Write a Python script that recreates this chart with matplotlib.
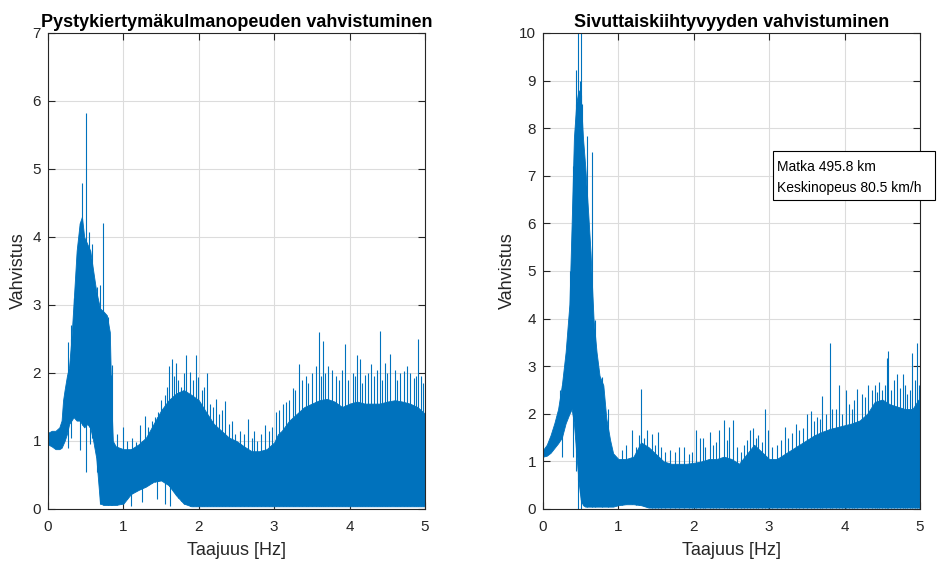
import matplotlib.pyplot as plt
from matplotlib.patches import Rectangle
import numpy as np

plt.rcParams['font.family'] = ['Liberation Sans', 'DejaVu Sans']

# --- vasen kuva: pystykiertymakulmanopeus, tiheän kaistan ylä- ja alareuna ---
left_f = [0.0, 0.05, 0.1, 0.15, 0.18, 0.2, 0.22, 0.25, 0.28, 0.31, 0.34, 0.38, 0.42, 0.45,
          0.48, 0.52, 0.56, 0.6, 0.64, 0.69, 0.74, 0.78, 0.82, 0.84, 0.86, 0.9, 1.0, 1.1,
          1.2, 1.3, 1.4, 1.5, 1.6, 1.7, 1.8, 1.9, 2.0, 2.1, 2.2, 2.3, 2.4, 2.5, 2.6, 2.7,
          2.8, 2.9, 3.0, 3.05, 3.1, 3.2, 3.3, 3.4, 3.5, 3.6, 3.7, 3.8, 3.9, 4.0, 4.1, 4.2,
          4.3, 4.4, 4.5, 4.6, 4.7, 4.8, 4.9, 5.0]
left_up = [1.12, 1.15, 1.15, 1.2, 1.3, 1.6, 1.75, 1.95, 2.1, 2.5, 3.05, 3.8, 4.2, 4.3,
           4.0, 3.9, 3.8, 3.5, 3.2, 2.95, 2.9, 2.85, 2.6, 1.6, 1.0, 0.92, 0.88, 0.88,
           0.95, 1.05, 1.25, 1.45, 1.6, 1.7, 1.75, 1.68, 1.6, 1.42, 1.25, 1.15, 1.05, 1.0,
           0.92, 0.85, 0.85, 0.88, 0.98, 1.1, 1.15, 1.3, 1.4, 1.5, 1.55, 1.6, 1.62, 1.58,
           1.5, 1.55, 1.58, 1.55, 1.55, 1.55, 1.58, 1.6, 1.58, 1.55, 1.5, 1.4]
left_lo = [0.95, 0.92, 0.88, 0.88, 0.9, 0.95, 1.0, 1.1, 1.25, 1.3, 1.35, 1.3, 1.3, 1.25,
           1.2, 1.25, 1.2, 1.0, 0.75, 0.08, 0.06, 0.06, 0.06, 0.06, 0.06, 0.06, 0.08, 0.22,
           0.28, 0.33, 0.4, 0.42, 0.35, 0.2, 0.08, 0.04, 0.04, 0.04, 0.04, 0.04, 0.04, 0.04,
           0.04, 0.04, 0.04, 0.04, 0.04, 0.04, 0.04, 0.04, 0.04, 0.04, 0.04, 0.04, 0.04, 0.04,
           0.04, 0.04, 0.04, 0.04, 0.04, 0.04, 0.04, 0.04, 0.04, 0.04, 0.04, 0.04]
left_spike_f = [0.27, 0.31, 0.34, 0.455, 0.51, 0.55, 0.59, 0.655, 0.69, 0.73, 0.80, 0.83, 0.85,
                0.92, 0.99, 1.22, 1.29, 1.38, 1.46, 1.55, 1.61, 1.64, 1.70, 1.77, 1.83, 1.88,
                1.96, 1.99, 2.11, 2.23, 2.35, 2.48, 2.65, 2.77, 2.88, 3.03, 3.16, 3.25, 3.33,
                3.42, 3.59, 3.65, 3.72, 3.82, 3.94, 4.10, 4.14, 4.20, 4.28, 4.40, 4.47, 4.54,
                4.72, 4.85, 4.91, 4.95,
                1.05, 1.12, 1.17, 1.33, 1.42, 1.50, 1.58, 1.67, 1.73, 1.80, 1.92, 2.04,
                2.07, 2.15, 2.19, 2.27, 2.31, 2.40, 2.44, 2.55, 2.60, 2.70, 2.73, 2.82,
                2.93, 2.97, 3.07, 3.12, 3.20, 3.28, 3.37, 3.45, 3.50, 3.55, 3.62, 3.68,
                3.77, 3.86, 3.90, 3.98, 4.04, 4.07, 4.17, 4.24, 4.33, 4.36, 4.43, 4.50,
                4.60, 4.63, 4.67, 4.76, 4.80, 4.88, 4.98]
left_spike_v = [2.45, 2.7, 3.1, 4.8, 5.83, 4.08, 3.9, 3.27, 3.3, 4.2, 2.83, 1.97, 2.12,
                1.1, 1.21, 1.23, 1.37, 1.3, 1.43, 1.67, 2.11, 2.21, 2.14, 1.8, 2.27, 2.01,
                2.27, 1.94, 2.0, 1.62, 1.59, 1.11, 1.33, 1.0, 1.24, 1.42, 1.58, 1.78, 2.13,
                1.95, 2.6, 2.47, 2.1, 1.95, 2.43, 2.27, 2.2, 1.97, 2.13, 2.62, 2.15, 2.28,
                2.03, 1.93, 2.5, 1.96,
                1.0, 1.05, 0.98, 1.2, 1.35, 1.6, 1.8, 1.95, 1.9, 2.0, 1.9, 1.75,
                1.8, 1.55, 1.5, 1.4, 1.45, 1.25, 1.3, 1.15, 1.1, 1.05, 1.15, 1.1,
                1.15, 1.2, 1.45, 1.55, 1.6, 1.75, 1.9, 1.85, 2.0, 2.1, 1.95, 2.0,
                2.05, 1.9, 2.05, 1.9, 2.0, 1.95, 1.85, 2.0, 1.95, 2.05, 1.9, 2.0,
                2.05, 1.9, 2.0, 2.1, 2.0, 1.95, 1.85]
left_dip_f = [0.0, 0.26, 0.31, 0.42, 0.51, 0.56, 1.1, 1.25, 1.45, 1.55, 1.62]
left_dip_v = [0.2, 0.9, 1.05, 0.87, 0.55, 0.95, 0.05, 0.1, 0.15, 0.08, 0.05]

# --- oikea kuva: sivuttaiskiihtyvyys ---
right_f = [0.0, 0.05, 0.1, 0.15, 0.2, 0.25, 0.3, 0.35, 0.38, 0.41, 0.44, 0.47, 0.5, 0.53,
           0.56, 0.6, 0.63, 0.67, 0.71, 0.75, 0.8, 0.84, 0.89, 0.93, 1.0, 1.1, 1.2, 1.3,
           1.4, 1.5, 1.6, 1.7, 1.8, 1.9, 2.0, 2.1, 2.2, 2.3, 2.4, 2.5, 2.6, 2.7, 2.8, 2.9,
           3.0, 3.1, 3.2, 3.3, 3.4, 3.5, 3.6, 3.7, 3.8, 3.9, 4.0, 4.1, 4.2, 4.3, 4.4, 4.5,
           4.6, 4.7, 4.8, 4.9, 4.98, 5.0]
right_up = [1.24, 1.35, 1.55, 1.8, 2.1, 2.6, 3.3, 4.3, 6.0, 7.8, 8.5, 8.8, 8.7, 7.8,
            7.2, 6.2, 5.4, 4.0, 3.3, 2.8, 2.6, 1.9, 1.45, 1.17, 1.05, 1.05, 1.1, 1.4,
            1.3, 1.15, 1.0, 0.95, 0.95, 0.95, 0.97, 1.0, 1.05, 1.05, 1.1, 1.05, 0.95, 1.15,
            1.35, 1.2, 1.05, 1.05, 1.15, 1.25, 1.35, 1.45, 1.55, 1.62, 1.68, 1.72, 1.76, 1.8,
            1.86, 2.0, 2.25, 2.3, 2.2, 2.15, 2.1, 2.1, 2.3, 0.85]
right_lo = [1.1, 1.12, 1.18, 1.28, 1.38, 1.5, 1.8, 2.0, 2.1, 1.8, 1.2, 0.6, 0.2, 0.08,
            0.05, 0.05, 0.05, 0.05, 0.05, 0.05, 0.05, 0.05, 0.05, 0.05, 0.08, 0.1, 0.1, 0.08,
            0.03, 0.03, 0.03, 0.03, 0.03, 0.03, 0.03, 0.03, 0.03, 0.03, 0.03, 0.03, 0.03, 0.03,
            0.03, 0.03, 0.03, 0.03, 0.03, 0.03, 0.03, 0.03, 0.03, 0.03, 0.03, 0.03, 0.03, 0.03,
            0.03, 0.03, 0.03, 0.03, 0.03, 0.03, 0.03, 0.03, 0.03, 0.03]
right_spike_f = [0.23, 0.36, 0.44, 0.47, 0.49, 0.51, 0.52, 0.59, 0.65, 0.69, 0.78, 0.86,
                 1.18, 1.30, 1.38, 1.44, 1.52, 1.81, 1.87, 2.03, 2.08, 2.12, 2.21, 2.34,
                 2.40, 2.47, 2.52, 2.75, 2.78, 2.85, 2.95, 2.98, 3.21, 3.36, 3.50, 3.55,
                 3.64, 3.70, 3.80, 3.83, 4.02, 4.16, 4.23, 4.37, 4.46, 4.56, 4.58, 4.70,
                 4.77, 4.83, 4.90, 4.96,
                 1.05, 1.10, 1.23, 1.27, 1.34, 1.48, 1.57, 1.62, 1.68, 1.75, 1.93, 1.97,
                 2.15, 2.26, 2.30, 2.44, 2.57, 2.62, 2.66, 2.71, 2.82, 2.90, 3.04, 3.10,
                 3.15, 3.25, 3.30, 3.40, 3.45, 3.60, 3.67, 3.75, 3.88, 3.93, 3.96, 4.06,
                 4.10, 4.13, 4.27, 4.31, 4.40, 4.43, 4.50, 4.53, 4.62, 4.66, 4.74, 4.80,
                 4.87, 4.93, 4.99]
right_spike_v = [2.5, 5.0, 9.22, 10.5, 9.0, 10.5, 8.5, 7.84, 7.5, 3.97, 2.78, 2.1,
                 1.67, 2.52, 1.65, 1.58, 1.62, 1.3, 1.3, 1.67, 1.5, 1.5, 1.62, 1.67,
                 1.86, 1.72, 1.86, 1.67, 1.7, 1.55, 2.1, 1.67, 1.72, 1.79, 2.0, 2.06,
                 1.93, 2.38, 3.49, 2.1, 2.5, 2.52, 2.42, 2.5, 2.66, 3.17, 3.31, 2.83,
                 2.83, 2.42, 3.28, 3.49,
                 1.25, 1.35, 1.3, 1.55, 1.5, 1.35, 1.3, 1.2, 1.25, 1.2, 1.15, 1.2,
                 1.3, 1.35, 1.4, 1.45, 1.3, 1.2, 1.35, 1.45, 1.5, 1.4, 1.3, 1.35,
                 1.45, 1.5, 1.6, 1.65, 1.7, 1.85, 1.9, 2.0, 2.1, 2.6, 2.0, 2.2,
                 2.1, 2.3, 2.35, 2.6, 2.6, 2.45, 2.5, 2.6, 2.5, 2.7, 2.55, 2.6,
                 2.5, 2.7, 2.6]
right_dip_f = [0.25, 0.4, 0.44, 0.47, 0.5]
right_dip_v = [1.1, 1.1, 0.8, 0.0, 0.0]

info_lines = ['Matka 495.8 km', 'Keskinopeus 80.5 km/h']

blue = '#0072BD'
dark = '#262626'


def draw_panel(ax, f, up, lo, sf, sv, df, dv, ymax, title):
    ax.fill_between(f, lo, up, color=blue, lw=0.6)
    base = np.interp(sf, f, lo)
    ax.vlines(sf, base, sv, color=blue, lw=0.8)
    top = np.interp(df, f, up)
    ax.vlines(df, dv, top, color=blue, lw=0.8)
    ax.set_xlim(0, 5)
    ax.set_ylim(0, ymax)
    ax.set_xticks(range(0, 6))
    ax.set_yticks(range(0, ymax + 1))
    ax.grid(True, color='#dcdcdc', lw=0.8)
    ax.set_axisbelow(True)
    ax.tick_params(direction='in', top=True, right=True, length=5, width=0.8,
                   labelsize=11, colors=dark)
    ax.tick_params(axis='x', pad=8)
    ax.tick_params(axis='y', pad=5)
    for s in ax.spines.values():
        s.set_color(dark)
        s.set_linewidth(0.8)
    ax.set_title(title, fontsize=13, fontweight='bold', pad=4)
    ax.set_xlabel('Taajuus [Hz]', fontsize=13, color=dark)
    ax.set_ylabel('Vahvistus', fontsize=13, color=dark)
    ax.xaxis.set_label_coords(0.5, -0.07)


fig = plt.figure(figsize=(9.44, 5.75), dpi=100)
ax1 = fig.add_axes([48 / 944, 66 / 575, 377 / 944, 476 / 575])
ax2 = fig.add_axes([543 / 944, 66 / 575, 377 / 944, 476 / 575])

draw_panel(ax1, left_f, left_up, left_lo, left_spike_f, left_spike_v,
           left_dip_f, left_dip_v, 7, 'Pystykiertymäkulmanopeuden vahvistuminen')
draw_panel(ax2, right_f, right_up, right_lo, right_spike_f, right_spike_v,
           right_dip_f, right_dip_v, 10, 'Sivuttaiskiihtyvyyden vahvistuminen')
ax1.yaxis.set_label_coords(-0.056, 0.5)
ax2.yaxis.set_label_coords(-0.072, 0.5)

# tekstilaatikko
fig.patches.append(Rectangle((772.7 / 944, 375 / 575), 162.3 / 944, 49.3 / 575,
                             transform=fig.transFigure, facecolor='white',
                             edgecolor='black', lw=0.8, zorder=5))
fig.text(777 / 944, 1 - 166.7 / 575, info_lines[0], fontsize=10, va='center', zorder=6)
fig.text(777 / 944, 1 - 188.3 / 575, info_lines[1], fontsize=10, va='center', zorder=6)

fig.savefig('out.png', dpi=100)
